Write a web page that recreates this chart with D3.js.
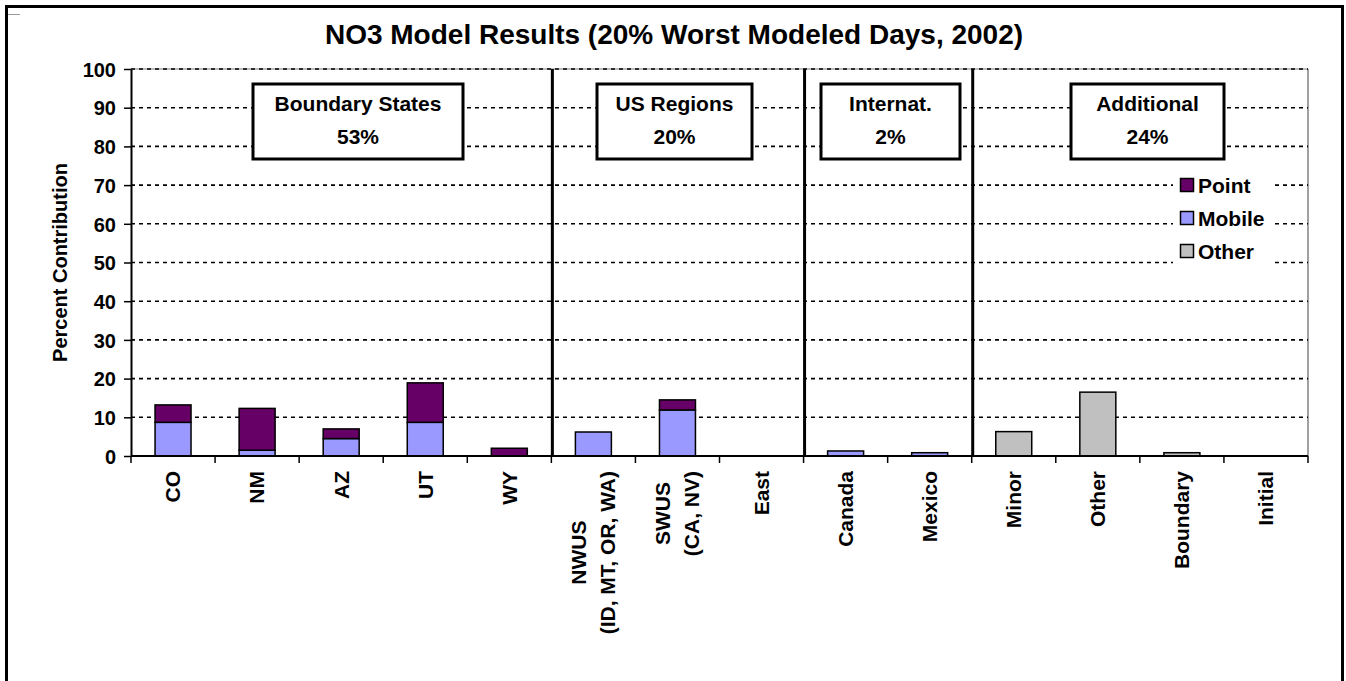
<!DOCTYPE html>
<html><head><meta charset="utf-8">
<script src="https://cdn.jsdelivr.net/npm/d3@7"></script>
<style>
body{margin:0;background:#fff;}
text{font-family:"Liberation Sans",Arial,sans-serif;font-weight:bold;fill:#000;}
</style>
</head><body>
<svg id="chart" width="1346" height="681"></svg>
<script>
// ---------- data ----------
const categories = ["CO","NM","AZ","UT","WY","NWUS\n(ID, MT, OR, WA)","SWUS\n(CA, NV)","East","Canada","Mexico","Minor","Other","Boundary","Initial"];
const pointValues  = [4.5, 10.8, 2.5, 10.2, 2.0, 0, 2.6, 0, 0, 0, 0, 0, 0, 0];
const mobileValues = [8.7, 1.5, 4.5, 8.7, 0, 6.2, 11.9, 0, 1.3, 0.85, 0, 0, 0, 0];
const otherValues  = [0, 0, 0, 0, 0, 0, 0, 0, 0, 0, 6.3, 16.5, 0.85, 0];
const seriesNames = ["Point","Mobile","Other"];
const seriesColors = ["#660066","#9999FF","#C0C0C0"];
const yTicks = [0,10,20,30,40,50,60,70,80,90,100];
const groupNames = ["Boundary States","US Regions","Internat.","Additional"];
const groupShares = ["53%","20%","2%","24%"];
const groupSizes = [5,3,2,4];
const title = "NO3 Model Results (20% Worst Modeled Days, 2002)";
const yTitle = "Percent Contribution";

// ---------- layout ----------
const W = 1346, H = 681;
const plot = {left:131, right:1308, top:69, bottom:456};
const boxLayout = [ {x0:253, x1:463}, {x0:597, x1:752}, {x0:821, x1:960}, {x0:1071, x1:1224} ];
const boxTop = 84, boxBottom = 159;
const fs = "21px";

const svg = d3.select("#chart");

const x = d3.scaleBand().domain(categories).range([plot.left, plot.right])
  .paddingInner(0.572).paddingOuter(0.286);
const y = d3.scaleLinear().domain([0,100]).range([plot.bottom, plot.top]);
const step = x.step();
const boundary = i => plot.left + i*step;

// outer frame
svg.append("path").attr("d",`M6.5,${H+5} V6.5 H1342.5 V${H+5}`)
  .attr("fill","none").attr("stroke","#000").attr("stroke-width",3);
svg.append("line").attr("x1",8).attr("x2",20).attr("y1",14.5).attr("y2",14.5)
  .attr("stroke","#999").attr("stroke-width",1);

// title
svg.append("text").attr("x",674).attr("y",44).attr("text-anchor","middle")
  .style("font-size","28px").text(title);

// plot border (gray) right & top
svg.append("line").attr("x1",plot.right).attr("x2",plot.right).attr("y1",plot.top).attr("y2",plot.bottom)
  .attr("stroke","#808080").attr("stroke-width",1.5);
svg.append("line").attr("x1",plot.left).attr("x2",plot.right).attr("y1",plot.top).attr("y2",plot.top)
  .attr("stroke","#808080").attr("stroke-width",1);

// gridlines
svg.append("g").selectAll("line").data(yTicks.filter(d=>d>0)).join("line")
  .attr("x1",plot.left).attr("x2",plot.right)
  .attr("y1",d=>y(d)).attr("y2",d=>y(d))
  .attr("stroke","#000").attr("stroke-width",1.6).attr("stroke-dasharray","4,4");

// group boxes
groupNames.forEach((g,i)=>{
  const b = boxLayout[i];
  svg.append("rect").attr("x",b.x0).attr("y",boxTop).attr("width",b.x1-b.x0).attr("height",boxBottom-boxTop)
    .attr("fill","#fff").attr("stroke","#000").attr("stroke-width",3);
  const cx = (b.x0+b.x1)/2;
  svg.append("text").attr("x",cx).attr("y",111).attr("text-anchor","middle").style("font-size",fs).text(g);
  svg.append("text").attr("x",cx).attr("y",144).attr("text-anchor","middle").style("font-size",fs).text(groupShares[i]);
});

// stacked bars
const rows = categories.map((c,i)=>({cat:c, Other:otherValues[i], Mobile:mobileValues[i], Point:pointValues[i]}));
const stack = d3.stack().keys(["Other","Mobile","Point"])(rows);
const colorOf = k => seriesColors[seriesNames.indexOf(k)];
svg.append("g").selectAll("g").data(stack).join("g")
  .attr("fill",d=>colorOf(d.key))
  .selectAll("rect").data(d=>d.filter(s=>s[1]-s[0]>0)).join("rect")
  .attr("x",d=>x(d.data.cat)).attr("width",x.bandwidth())
  .attr("y",d=>y(d[1])).attr("height",d=>y(d[0])-y(d[1]))
  .attr("stroke","#000").attr("stroke-width",1.5);

// group separators
let acc = 0;
groupSizes.slice(0,-1).forEach(s=>{
  acc += s;
  const xx = boundary(acc);
  svg.append("line").attr("x1",xx+1).attr("x2",xx+1).attr("y1",plot.top).attr("y2",plot.bottom)
    .attr("stroke","#000").attr("stroke-width",3);
});

// legend
const lg = svg.append("g");
lg.append("rect").attr("x",1173).attr("y",166).attr("width",100).attr("height",101).attr("fill","#fff");
seriesNames.forEach((n,i)=>{
  const cy = 185 + i*33;
  lg.append("rect").attr("x",1180.5).attr("y",cy-6.5).attr("width",13).attr("height",13)
    .attr("fill",seriesColors[i]).attr("stroke","#000").attr("stroke-width",1.5);
  lg.append("text").attr("x",1198).attr("y",cy+7.5).style("font-size",fs).text(n);
});

// y axis
const yAxis = svg.append("g").attr("transform",`translate(${plot.left},0)`)
  .call(d3.axisLeft(y).tickValues(yTicks).tickSize(7).tickPadding(8).tickSizeOuter(0));
yAxis.select(".domain").attr("stroke","#000").attr("stroke-width",2);
yAxis.selectAll(".tick line").attr("stroke","#000").attr("stroke-width",1.5);
yAxis.selectAll(".tick text").style("font-size","20px").style("font-family",'"Liberation Sans",Arial,sans-serif').attr("dy","0.36em");

svg.append("text").attr("transform",`translate(60,${(plot.top+plot.bottom)/2}) rotate(-90)`)
  .attr("text-anchor","middle").attr("dy","0.35em").style("font-size","20px").text(yTitle);

// x axis
svg.append("line").attr("x1",plot.left).attr("x2",plot.right).attr("y1",plot.bottom).attr("y2",plot.bottom)
  .attr("stroke","#000").attr("stroke-width",2);
svg.append("g").selectAll("line").data(d3.range(categories.length+1)).join("line")
  .attr("x1",d=>boundary(d)).attr("x2",d=>boundary(d))
  .attr("y1",plot.bottom).attr("y2",plot.bottom+7)
  .attr("stroke","#000").attr("stroke-width",1.5);

// category labels (rotated)
const labelTop = 471;
categories.forEach(name=>{
  const lines = name.split("\n");
  const cx = x(name)+x.bandwidth()/2;
  const g = svg.append("g").attr("transform",`translate(${cx},${labelTop}) rotate(-90)`);
  const ts = lines.map((l,j)=>g.append("text").attr("text-anchor","middle")
    .attr("y",(j-(lines.length-1)/2)*29).attr("dy","0.35em").style("font-size",fs).text(l));
  const maxLen = d3.max(ts, t=>t.node().getComputedTextLength());
  ts.forEach(t=>t.attr("x",-maxLen/2));
});
</script>
</body></html>
